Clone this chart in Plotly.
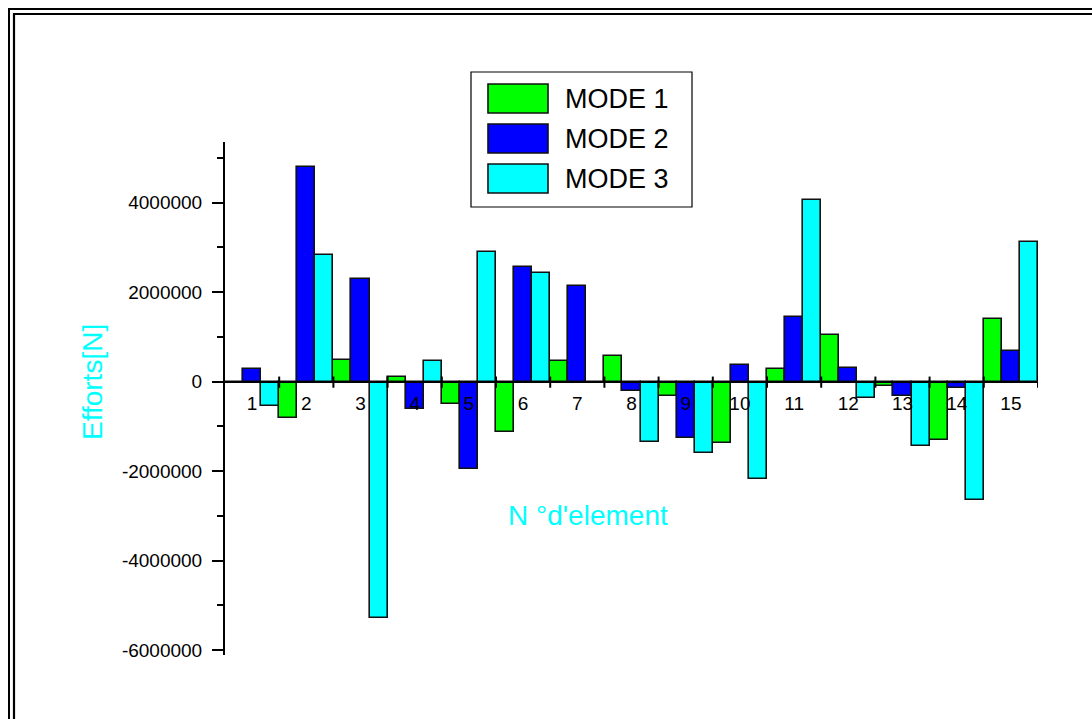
import plotly.graph_objects as go

# Element numbers and internal forces per vibration mode
elements = list(range(1, 16))
mode1 = [0, -820000, 480000, 100000, -500000, -1130000, 460000, 580000,
         -330000, -1360000, 280000, 1050000, -100000, -1310000, 1400000]
mode2 = [280000, 4800000, 2300000, -600000, -1950000, 2560000, 2130000, -210000,
         -1250000, 380000, 1450000, 300000, -320000, -150000, 690000]
mode3 = [-540000, 2820000, -5290000, 460000, 2890000, 2430000, 0, -1350000,
         -1590000, -2180000, 4060000, -370000, -1430000, -2650000, 3130000]

series_names = ["MODE 1", "MODE 2", "MODE 3"]
series_colors = ["#00FF00", "#0000FF", "#00FFFF"]
series_values = [mode1, mode2, mode3]

y_tickvals = [-6000000, -4000000, -2000000, 0, 2000000, 4000000]
y_ticktext = ["-6000000", "-4000000", "-2000000", "0", "2000000", "4000000"]

W, H = 1092, 719
L, R, T, B = 225, 54, 142, 64
PW, PH = W - L - R, H - T - B
Y_MIN, Y_MAX = -6107000, 5356000
X_MIN, X_MAX = 0.5, 15.5

FONT = "Liberation Sans, Arial, Helvetica, sans-serif"


def px(xp):
    return (xp - L) / PW


def py(yp):
    return 1 - (yp - T) / PH


fig = go.Figure()
for name, color, vals in zip(series_names, series_colors, series_values):
    fig.add_trace(go.Bar(
        x=elements, y=vals, name=name, showlegend=False,
        marker=dict(color=color, line=dict(color="#111111", width=1.6)),
    ))

zero_pos = (0 - Y_MIN) / (Y_MAX - Y_MIN)

shapes = []
# boundary ticks between elements, crossing the zero axis
for k in range(1, 16):
    shapes.append(dict(type="line", xref="x", yref="y",
                       x0=k + 0.5, x1=k + 0.5, y0=-135000, y1=115000,
                       line=dict(color="black", width=2)))

# double frame around the drawing
for off in (9, 14):
    shapes.append(dict(type="rect", xref="paper", yref="paper",
                       x0=px(off), x1=px(W + 60), y0=py(H + 60), y1=py(off),
                       line=dict(color="black", width=2.2 if off == 14 else 2),
                       layer="above"))

# legend box
shapes.append(dict(type="rect", xref="paper", yref="paper",
                   x0=px(471), x1=px(692), y0=py(207), y1=py(72),
                   line=dict(color="black", width=1.2), fillcolor="white",
                   layer="above"))

annotations = []
row_tops = [84, 124, 164]
for name, color, top in zip(series_names, series_colors, row_tops):
    shapes.append(dict(type="rect", xref="paper", yref="paper",
                       x0=px(488), x1=px(548), y0=py(top + 29), y1=py(top),
                       line=dict(color="#111111", width=1.6), fillcolor=color,
                       layer="above"))
    annotations.append(dict(text=name, xref="paper", yref="paper",
                            x=px(563), y=py(top + 15), xanchor="left", yanchor="middle",
                            showarrow=False, font=dict(family=FONT, size=27, color="black")))

annotations.append(dict(text="Efforts[N]", xref="paper", yref="paper",
                        x=px(92), y=py(382), textangle=-90,
                        xanchor="center", yanchor="middle", showarrow=False,
                        font=dict(family=FONT, size=28, color="#00FFFF")))
annotations.append(dict(text="N °d'element", xref="paper", yref="paper",
                        x=px(588), y=py(515), xanchor="center", yanchor="middle",
                        showarrow=False,
                        font=dict(family=FONT, size=28, color="#00FFFF")))

fig.update_layout(
    width=W, height=H,
    margin=dict(l=L, r=R, t=T, b=B, pad=0),
    paper_bgcolor="white", plot_bgcolor="white",
    barmode="group", bargap=0, bargroupgap=0,
    shapes=shapes, annotations=annotations,
    font=dict(family=FONT, color="black"),
    xaxis=dict(
        range=[X_MIN, X_MAX], anchor="free", position=zero_pos,
        tickmode="array", tickvals=elements, ticktext=[str(e) for e in elements],
        ticks="outside", ticklen=5, tickcolor="rgba(0,0,0,0)",
        showline=True, linecolor="black", linewidth=2,
        showgrid=False, zeroline=False, layer="above traces",
        tickfont=dict(family=FONT, size=19, color="black"),
    ),
    yaxis=dict(
        range=[Y_MIN, Y_MAX],
        tickmode="array", tickvals=y_tickvals, ticktext=y_ticktext,
        ticks="outside", ticklen=11, tickwidth=2, tickcolor="black",
        minor=dict(dtick=1000000, tick0=0, ticks="outside", ticklen=6,
                   tickwidth=2, tickcolor="black", showgrid=False),
        showline=True, linecolor="black", linewidth=2,
        showgrid=False, zeroline=False, ticklabelstandoff=6,
        tickfont=dict(family=FONT, size=19, color="black"),
    ),
)

fig.write_html("out.html")
